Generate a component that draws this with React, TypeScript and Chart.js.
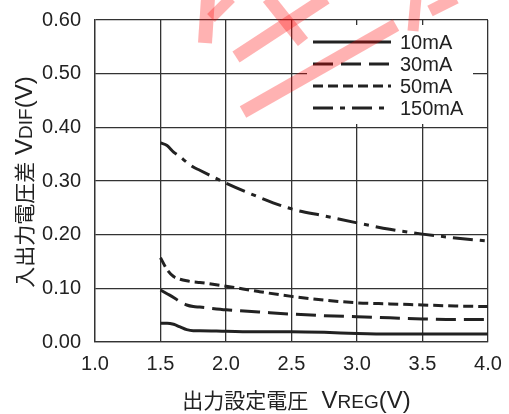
import React, { useEffect, useRef } from 'react';
import { Chart, registerables } from 'chart.js';

Chart.register(...registerables);

// Output set voltage (V)
const xValues = [1.5, 1.55, 1.6, 1.65, 1.7, 1.75, 1.8, 2.0, 2.25, 2.5, 2.75, 3.0, 3.25, 3.5, 3.75, 4.0];
// Dropout voltage (V) per load current
const ma10 = [0.035, 0.035, 0.033, 0.028, 0.023, 0.021, 0.021, 0.020, 0.019, 0.019, 0.018, 0.016, 0.015, 0.015, 0.015, 0.015];
const ma30 = [0.097, 0.090, 0.083, 0.075, 0.069, 0.066, 0.065, 0.060, 0.056, 0.052, 0.049, 0.047, 0.045, 0.043, 0.042, 0.042];
const ma50 = [0.157, 0.135, 0.122, 0.117, 0.114, 0.112, 0.111, 0.104, 0.094, 0.085, 0.078, 0.073, 0.071, 0.069, 0.067, 0.066];
const ma150 = [0.371, 0.366, 0.354, 0.345, 0.335, 0.326, 0.320, 0.296, 0.270, 0.248, 0.235, 0.222, 0.210, 0.201, 0.194, 0.188];

const seriesLabels = ['10mA', '30mA', '50mA', '150mA'];
const seriesData = [ma10, ma30, ma50, ma150];
const seriesDash: number[][] = [[], [20, 8], [10, 5], [20, 7, 5, 7]];

const xMin = 1.0, xMax = 4.0, xStep = 0.5;
const yMin = 0, yMax = 0.6, yStep = 0.1;

const LATIN = '"Liberation Sans", Arial, sans-serif';
const CJK = '"Noto Sans CJK JP", "Liberation Sans", sans-serif';
const INK = '#222222';

type Part = { text: string; font: string };

function drawRich(ctx: CanvasRenderingContext2D, parts: Part[], x: number, y: number, angle: number) {
  ctx.save();
  ctx.translate(x, y);
  ctx.rotate(angle);
  ctx.fillStyle = INK;
  ctx.textBaseline = 'alphabetic';
  ctx.textAlign = 'left';
  const widths = parts.map((p) => {
    ctx.font = p.font;
    return ctx.measureText(p.text).width;
  });
  const total = widths.reduce((a, b) => a + b, 0);
  let cx = -total / 2;
  parts.forEach((p, i) => {
    ctx.font = p.font;
    ctx.fillText(p.text, cx, 0);
    cx += widths[i];
  });
  ctx.restore();
}

const xTitle: Part[] = [
  { text: '出力設定電圧', font: `21px ${CJK}` },
  { text: '  V', font: `24px ${LATIN}` },
  { text: 'REG', font: `19px ${LATIN}` },
  { text: '(V)', font: `24px ${LATIN}` },
];
const yTitle: Part[] = [
  { text: '入出力電圧差', font: `21px ${CJK}` },
  { text: ' V', font: `24px ${LATIN}` },
  { text: 'DIF', font: `19px ${LATIN}` },
  { text: '(V)', font: `24px ${LATIN}` },
];

const decoPlugin = {
  id: 'deco',
  afterDatasetsDraw(chart: any) {
    const ctx: CanvasRenderingContext2D = chart.ctx;
    const a = chart.chartArea;
    // legend box
    ctx.save();
    ctx.fillStyle = '#ffffff';
    const bx = a.right - 181;
    const by = a.top + 5;
    ctx.fillRect(bx, by, 166, 99);
    ctx.font = `20px ${LATIN}`;
    ctx.textBaseline = 'middle';
    ctx.textAlign = 'left';
    seriesLabels.forEach((lab, i) => {
      const ly = a.top + 22 + i * 22;
      ctx.beginPath();
      ctx.strokeStyle = INK;
      ctx.lineWidth = 3;
      ctx.lineCap = 'butt';
      ctx.setLineDash(seriesDash[i]);
      ctx.moveTo(bx + 6, ly);
      ctx.lineTo(bx + 84, ly);
      ctx.stroke();
      ctx.setLineDash([]);
      ctx.fillStyle = INK;
      ctx.fillText(lab, bx + 93, ly + 1);
    });
    ctx.restore();
  },
  afterDraw(chart: any) {
    const ctx: CanvasRenderingContext2D = chart.ctx;
    const a = chart.chartArea;
    drawRich(ctx, xTitle, (a.left + a.right) / 2 + 5, 408, 0);
    drawRich(ctx, yTitle, 32, (a.top + a.bottom) / 2 + 1, -Math.PI / 2);
    // watermark strokes
    ctx.save();
    ctx.strokeStyle = 'rgba(255,0,0,0.3)';
    ctx.lineCap = 'butt';
    const strokes: [number, number, number, number, number][] = [
      [208, -2, 205, 43, 14],
      [211, 18, 231, -2, 11],
      [236, 57, 326, -2, 13],
      [268, -2, 303, 42, 13],
      [243, 112, 396, 25, 13],
      [416, -2, 413, 31, 11],
      [430, 11, 456, -2, 12],
    ];
    strokes.forEach(([x1, y1, x2, y2, w]) => {
      ctx.beginPath();
      ctx.lineWidth = w;
      ctx.moveTo(x1, y1);
      ctx.lineTo(x2, y2);
      ctx.stroke();
    });
    ctx.restore();
  },
};

export default function App() {
  const ref = useRef<HTMLCanvasElement>(null);
  useEffect(() => {
    document.body.style.margin = '0';
    const canvas = ref.current!;
    const chart = new Chart(canvas, {
      type: 'line',
      data: {
        datasets: seriesLabels.map((lab, i) => ({
          label: lab,
          data: xValues.map((x, j) => ({ x, y: seriesData[i][j] })),
          borderColor: INK,
          borderWidth: 3,
          borderDash: seriesDash[i],
          borderCapStyle: 'butt' as const,
          pointRadius: 0,
          fill: false,
          cubicInterpolationMode: 'monotone' as const,
        })),
      },
      options: {
        responsive: false,
        animation: false,
        layout: { padding: { top: 20, right: 21, left: 0, bottom: 0 } },
        plugins: { legend: { display: false }, tooltip: { enabled: false } },
        scales: {
          x: {
            type: 'linear',
            min: xMin,
            max: xMax,
            ticks: {
              stepSize: xStep,
              padding: 10,
              color: INK,
              font: { size: 20, family: LATIN },
              callback: (v: any) => Number(v).toFixed(1),
            },
            grid: { color: '#333333', lineWidth: 1.3, drawTicks: false },
            border: { color: '#333333', width: 1.3 },
            afterFit: (s: any) => {
              s.height = 72;
              s.paddingLeft = 0;
              s.paddingRight = 0;
            },
          },
          y: {
            type: 'linear',
            min: yMin,
            max: yMax,
            ticks: {
              stepSize: yStep,
              padding: 14,
              color: INK,
              font: { size: 20, family: LATIN },
              callback: (v: any) => Number(v).toFixed(2),
            },
            grid: { color: '#333333', lineWidth: 1.3, drawTicks: false },
            border: { color: '#333333', width: 1.3 },
            afterFit: (s: any) => {
              s.width = 95;
              s.paddingTop = 0;
              s.paddingBottom = 0;
            },
          },
        },
      },
      plugins: [decoPlugin],
    });
    return () => chart.destroy();
  }, []);
  return (
    <div style={{ width: 509, height: 414 }}>
      <canvas ref={ref} width={509} height={414} />
    </div>
  );
}
